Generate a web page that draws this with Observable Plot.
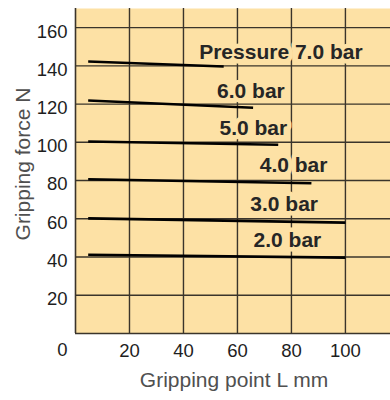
<!DOCTYPE html>
<html>
<head>
<meta charset="utf-8">
<script src="https://cdn.jsdelivr.net/npm/d3@7"></script>
<script src="https://cdn.jsdelivr.net/npm/@observablehq/plot@0.6"></script>
<style>
  html, body { margin: 0; padding: 0; background: #fff; }
  #chart svg { display: block; }
</style>
</head>
<body>
<div id="chart"></div>
<script>
// ---- data ----
const seriesLabels = ["Pressure 7.0 bar", "6.0 bar", "5.0 bar", "4.0 bar", "3.0 bar", "2.0 bar"];
const startL = [4.7, 4.7, 4.7, 4.7, 4.7, 4.7];
const startF = [142.3, 121.9, 100.4, 80.7, 60.2, 41.2];
const endL   = [54.9, 65.8, 75.1, 87.4, 100, 100];
const endF   = [139.7, 118.1, 98.7, 78.6, 58.0, 39.7];
// label anchors (data coordinates)
const labelL = [76.1, 65.0, 65.9, 80.8, 77.3, 78.5];
const labelF = [147.2, 126.6, 107.6, 87.8, 67.4, 48.9];
const xTicks = [20, 40, 60, 80, 100];
const yTicks = [20, 40, 60, 80, 100, 120, 140, 160];
const originTick = [0];

const bg = "#fde1a5";
const gridColor = "#3a342b";
const font = "'Liberation Sans', Arial, Helvetica, sans-serif";

const idx = seriesLabels.map((_, i) => i);

const chart = Plot.plot({
  width: 390,
  height: 400,
  marginLeft: 75,
  marginRight: 0,
  marginTop: 8,
  marginBottom: 67,
  x: { domain: [0, 116.7] },
  y: { domain: [0, 170] },
  style: { background: "#fff", fontFamily: font, color: "#1e1e1e" },
  marks: [
    Plot.frame({ fill: bg, stroke: "none" }),
    Plot.gridX(xTicks, { stroke: gridColor, strokeOpacity: 1, strokeWidth: 1.4 }),
    Plot.gridY(yTicks, { stroke: gridColor, strokeOpacity: 1, strokeWidth: 1.4 }),
    Plot.ruleX(originTick, { stroke: gridColor, strokeWidth: 1.6 }),
    Plot.ruleY(originTick, { stroke: gridColor, strokeWidth: 1.6 }),
    Plot.axisX(xTicks, { tickSize: 0, tickPadding: 10, fontSize: 18.5, label: null, fill: "#1e1e1e" }),
    Plot.axisY(yTicks, { tickSize: 0, tickPadding: 8, dy: 4, fontSize: 18.5, label: null, fill: "#1e1e1e" }),
    Plot.text(originTick, { x: d => d, y: d => d, text: d => String(d), dx: -13, dy: 17, fontSize: 18.5, fill: "#1e1e1e" }),
    Plot.text(["Gripping point L mm"], { frameAnchor: "bottom", text: d => d, dx: 1, dy: 53, fontSize: 21, fill: "#505050" }),
    Plot.text(["Gripping force N"], { frameAnchor: "left", textAnchor: "middle", text: d => d, rotate: -90, dx: -52, dy: -7, fontSize: 21, fill: "#505050" }),
    Plot.text(idx, {
      x: i => labelL[i], y: i => labelF[i], text: i => seriesLabels[i],
      fontSize: 21, fontWeight: "bold", fill: "#262626",
      stroke: bg, strokeWidth: 9, strokeLinejoin: "round", paintOrder: "stroke"
    }),
    Plot.link(idx, {
      x1: i => startL[i], y1: i => startF[i], x2: i => endL[i], y2: i => endF[i],
      stroke: "#000", strokeWidth: 2.6, strokeLinecap: "butt"
    })
  ]
});
document.getElementById("chart").append(chart);
</script>
</body>
</html>
